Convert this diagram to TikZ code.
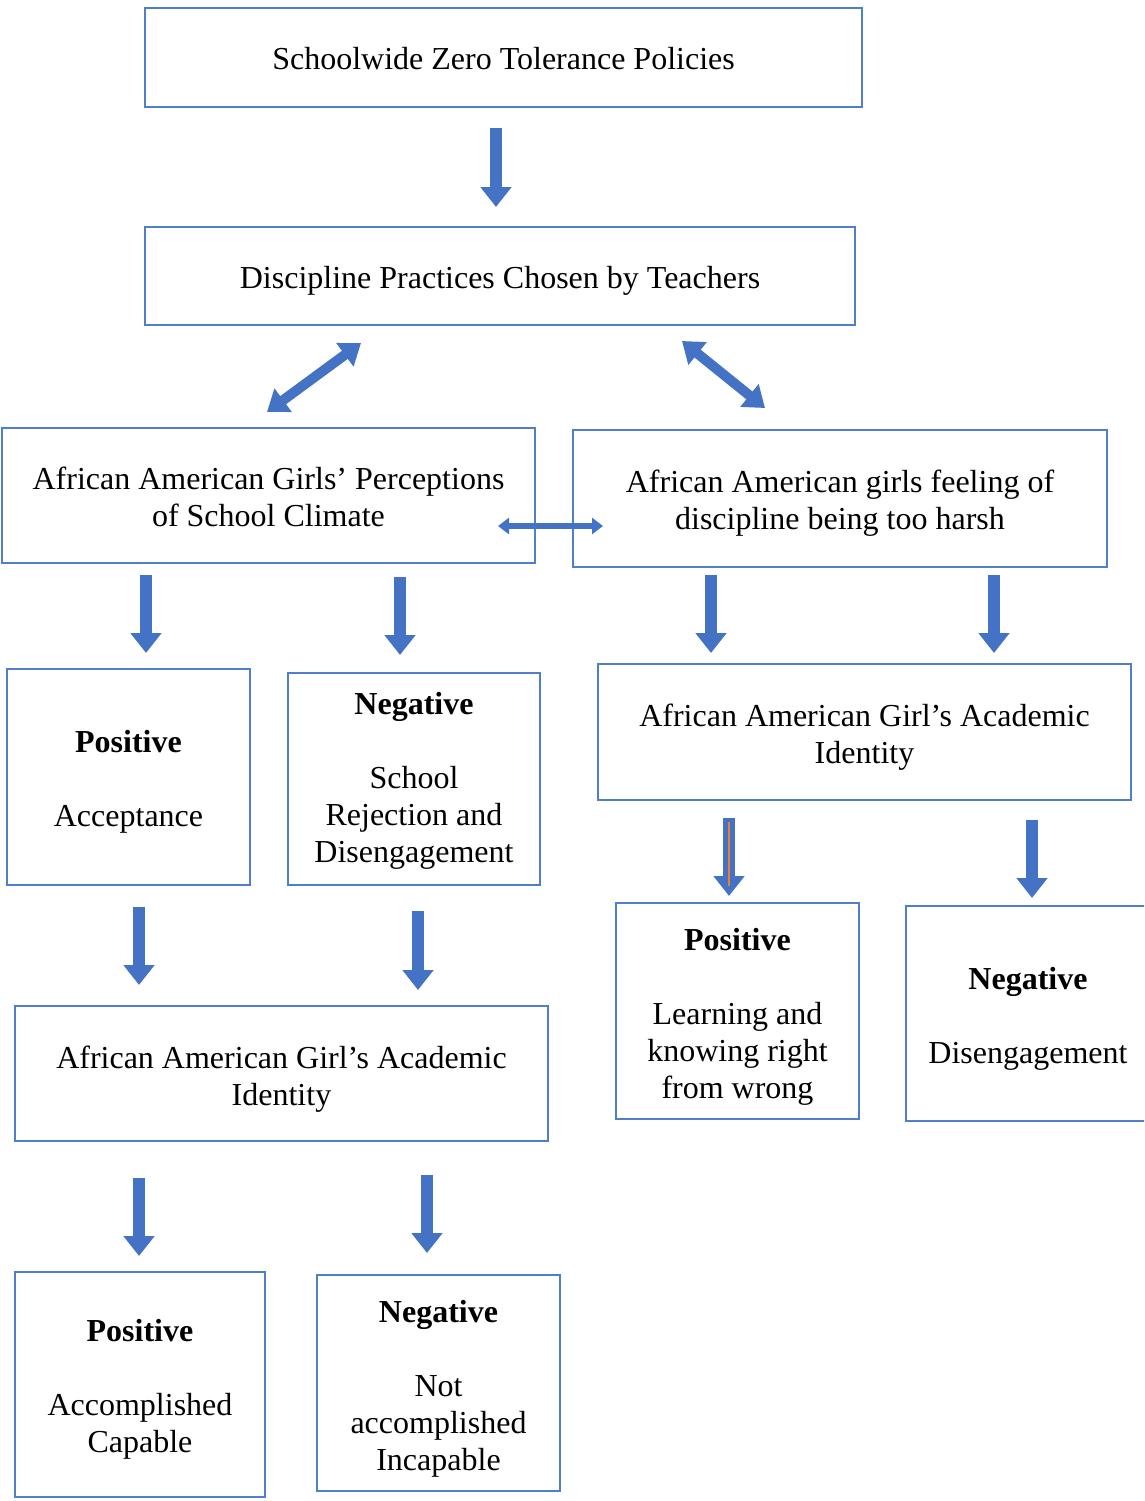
\documentclass[tikz,border=0pt]{standalone}
\usepackage{fontspec}
\setmainfont{Liberation Serif}
\usetikzlibrary{arrows.meta}
\definecolor{boxblue}{HTML}{4F7FCB}
\definecolor{arrblue}{HTML}{4472C4}
\definecolor{orangeline}{HTML}{ED7D31}
\tikzset{
  box/.style={draw=boxblue, line width=1.6pt, inner sep=0pt},
  txt/.style={align=center, inner sep=0pt, font=\fontsize{32}{37}\selectfont},
  barrow/.style={draw=arrblue, line width=12pt,
    -{Triangle[width=30pt,length=20pt]}},
  dbarrow/.style={draw=arrblue, line width=10pt,
    {Triangle[width=28pt,length=20pt]}-{Triangle[width=28pt,length=20pt]}},
  sbarrow/.style={draw=arrblue, line width=6pt,
    {Triangle[width=16pt,length=11pt]}-{Triangle[width=16pt,length=11pt]}},
}
\begin{document}
\begin{tikzpicture}[x=1pt,y=-1pt]
\clip (0,0) rectangle (1144,1501);
\fill[white] (0,0) rectangle (1144,1501);

% boxes
\node[box, minimum width=717pt, minimum height=99pt] (b1) at (503.5,57.5) {};
\node[box, minimum width=710pt, minimum height=98pt] (b2) at (500,276) {};
\node[box, minimum width=533pt, minimum height=135pt] (b3) at (268.5,495.5) {};
\node[box, minimum width=534pt, minimum height=137pt] (b4) at (840,498.5) {};
\node[box, minimum width=243pt, minimum height=216pt] (b5) at (128.5,777) {};
\node[box, minimum width=252pt, minimum height=212pt] (b6) at (414,779) {};
\node[box, minimum width=533pt, minimum height=136pt] (b7) at (864.5,732) {};
\node[box, minimum width=243pt, minimum height=216pt] (b8) at (737.5,1011) {};
\node[box, minimum width=260pt, minimum height=215pt] (b9) at (1036,1013.5) {};
\node[box, minimum width=533pt, minimum height=135pt] (b10) at (281.5,1073.5) {};
\node[box, minimum width=250pt, minimum height=225pt] (b11) at (140,1384.5) {};
\node[box, minimum width=243pt, minimum height=216pt] (b12) at (438.5,1383) {};

% texts
\node[txt] (t1) at ([yshift=-1pt]b1.center) {Schoolwide Zero Tolerance Policies};
\node[txt] (t2) at ([yshift=-4.5pt]b2.center) {Discipline Practices Chosen by Teachers};
\node[txt] (t3) at ([yshift=-1.5pt]b3.center) {African American Girls’ Perceptions\\of School Climate};
\node[txt] (t4) at ([yshift=-5pt]b4.center) {African American girls feeling of\\discipline being too harsh};
\node[txt] (t5) at ([yshift=-5pt]b5.center) {\textbf{Positive}\\[37pt]Acceptance};
\node[txt] (t6) at ([yshift=-1.5pt]b6.center) {\textbf{Negative}\\[37pt]School\\Rejection and\\Disengagement};
\node[txt] (t7) at ([yshift=-5.5pt]b7.center) {African American Girl’s Academic\\Identity};
\node[txt] (t8) at ([yshift=-6pt]b8.center) {\textbf{Positive}\\[37pt]Learning and\\knowing right\\from wrong};
\node[txt] (t9) at (1028,1018.5) {\textbf{Negative}\\[37pt]Disengagement};
\node[txt] (t10) at ([yshift=-5.5pt]b10.center) {African American Girl’s Academic\\Identity};
\node[txt] (t11) at ([yshift=-5pt]b11.center) {\textbf{Positive}\\[37pt]Accomplished\\Capable};
\node[txt] (t12) at ([yshift=-5.5pt]b12.center) {\textbf{Negative}\\[37pt]Not\\accomplished\\Incapable};

% arrow end points
\coordinate (a1s) at (496,128);  \coordinate (a1e) at (496,207);
\coordinate (a2s) at (361,343);  \coordinate (a2e) at (267,412);
\coordinate (a3s) at (682,341);  \coordinate (a3e) at (765,408);
\coordinate (a4s) at (498,526);  \coordinate (a4e) at (603,526);
\coordinate (a5s) at (146,575);  \coordinate (a5e) at (146,653);
\coordinate (a6s) at (400,577);  \coordinate (a6e) at (400,655);
\coordinate (a7s) at (711,575);  \coordinate (a7e) at (711,653);
\coordinate (a8s) at (994,575);  \coordinate (a8e) at (994,653);
\coordinate (a9s) at (729,818);  \coordinate (a9e) at (729,896);
\coordinate (a10s) at (1032,820); \coordinate (a10e) at (1032,898);
\coordinate (a11s) at (139,907); \coordinate (a11e) at (139,985);
\coordinate (a12s) at (418,911); \coordinate (a12e) at (418,990);
\coordinate (a13s) at (139,1178); \coordinate (a13e) at (139,1256);
\coordinate (a14s) at (427,1175); \coordinate (a14e) at (427,1253);
\coordinate (o9s) at (729,822); \coordinate (o9e) at (729,886);

\draw[barrow] (a1s) -- (a1e);
\draw[dbarrow] (a2s) -- (a2e);
\draw[dbarrow] (a3s) -- (a3e);
\draw[sbarrow] (a4s) -- (a4e);
\draw[barrow] (a5s) -- (a5e);
\draw[barrow] (a6s) -- (a6e);
\draw[barrow] (a7s) -- (a7e);
\draw[barrow] (a8s) -- (a8e);
\draw[barrow] (a9s) -- (a9e);
\draw[orangeline, line width=2pt] (o9s) -- (o9e);
\draw[barrow] (a10s) -- (a10e);
\draw[barrow] (a11s) -- (a11e);
\draw[barrow] (a12s) -- (a12e);
\draw[barrow] (a13s) -- (a13e);
\draw[barrow] (a14s) -- (a14e);
\end{tikzpicture}
\end{document}
